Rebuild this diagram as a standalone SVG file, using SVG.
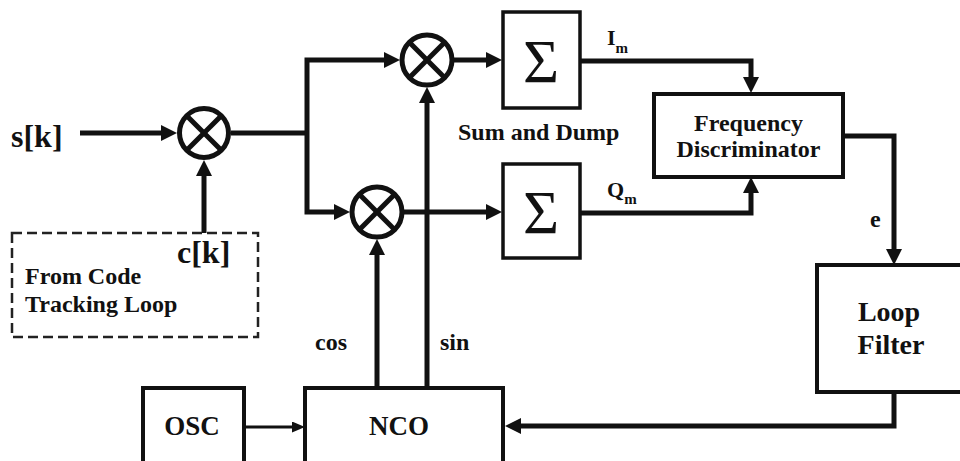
<svg xmlns="http://www.w3.org/2000/svg" width="960" height="461" viewBox="0 0 960 461">
<style>
  text { font-family: "Liberation Serif", "Times New Roman", serif; font-weight: bold; fill: #111; }
  .box { fill: #fff; stroke: #111; stroke-width: 4; }
  .dash { fill: none; stroke: #222; stroke-width: 2.5; stroke-dasharray: 10 5; }
  .mix circle { fill: #fff; stroke: #111; stroke-width: 5; }
  .mix line { stroke: #111; stroke-width: 5; }
  .w { stroke: #111; stroke-width: 5; fill: none; }
  .thin { stroke: #111; stroke-width: 3; fill: none; }
  .sig { font-weight: normal; font-size: 62px; text-anchor: middle; }
  .lbl { font-size: 24px; }
  .big { font-size: 32px; }
  .mid { text-anchor: middle; }
</style>
<defs>
  <marker id="ah" viewBox="0 0 16 16" refX="2" refY="8" markerWidth="16" markerHeight="16" markerUnits="userSpaceOnUse" orient="auto">
    <path d="M0,0 L16,8 L0,16 z" fill="#111"/>
  </marker>
  <marker id="ahs" viewBox="0 0 13 11" refX="2" refY="5.5" markerWidth="13" markerHeight="11" markerUnits="userSpaceOnUse" orient="auto">
    <path d="M0,0 L13,5.5 L0,11 z" fill="#111"/>
  </marker>
</defs>
<rect width="960" height="461" fill="#fff"/>

<g id="connectors">
  <path class="w" d="M80,133 H163" marker-end="url(#ah)"/>
  <path class="w" d="M204,233 V174" marker-end="url(#ah)"/>
  <path class="w" d="M231,133 H307"/>
  <path class="w" d="M307,133 V60 H386" marker-end="url(#ah)"/>
  <path class="w" d="M307,133 V212 H336" marker-end="url(#ah)"/>
  <path class="w" d="M454,60 H488" marker-end="url(#ah)"/>
  <path class="w" d="M404,212 H488" marker-end="url(#ah)"/>
  <path class="w" d="M377,388 V253" marker-end="url(#ah)"/>
  <path class="w" d="M427,388 V101" marker-end="url(#ah)"/>
  <path class="w" d="M580,61 H751 V79" marker-end="url(#ah)"/>
  <path class="w" d="M580,213 H751 V191" marker-end="url(#ah)"/>
  <path class="w" d="M843,136 H894 V251" marker-end="url(#ah)"/>
  <path class="w" d="M894,392 V426 H519" marker-end="url(#ah)"/>
  <path class="thin" d="M244,427 H294" marker-end="url(#ahs)"/>
</g>

<g id="input-s">
  <text class="big" x="11" y="147">s[k]</text>
</g>

<g id="mixer1" class="mix">
  <circle cx="204" cy="133" r="24.5"/>
  <line x1="186.7" y1="115.7" x2="221.3" y2="150.3"/>
  <line x1="221.3" y1="115.7" x2="186.7" y2="150.3"/>
</g>

<g id="code-loop">
  <rect class="dash" x="12" y="233" width="246" height="104"/>
  <text class="big" x="177" y="263">c[k]</text>
  <text class="lbl" x="25" y="284">From Code</text>
  <text class="lbl" x="25" y="312">Tracking Loop</text>
</g>

<g id="mixer-i" class="mix">
  <circle cx="427" cy="60" r="25"/>
  <line x1="409.3" y1="42.3" x2="444.7" y2="77.7"/>
  <line x1="444.7" y1="42.3" x2="409.3" y2="77.7"/>
</g>

<g id="mixer-q" class="mix">
  <circle cx="377" cy="212" r="25"/>
  <line x1="359.3" y1="194.3" x2="394.7" y2="229.7"/>
  <line x1="394.7" y1="194.3" x2="359.3" y2="229.7"/>
</g>

<g id="sum-i">
  <rect class="box" x="503" y="12" width="77" height="96" style="stroke-width:3.5"/>
  <text class="sig" x="541" y="82">Σ</text>
</g>

<g id="sum-q">
  <rect class="box" x="503" y="164" width="77" height="94" style="stroke-width:3.5"/>
  <text class="sig" x="541" y="233">Σ</text>
</g>

<g id="sum-label">
  <text class="lbl" x="458" y="140">Sum and Dump</text>
</g>

<g id="label-im">
  <text x="607" y="45" style="font-size:22px">I<tspan dy="8" style="font-size:15px">m</tspan></text>
</g>
<g id="label-qm">
  <text x="607" y="197" style="font-size:22px">Q<tspan dy="7" style="font-size:15px">m</tspan></text>
</g>

<g id="freq-disc">
  <rect class="box" x="654" y="94" width="189" height="83"/>
  <text class="lbl mid" x="748.5" y="131">Frequency</text>
  <text class="lbl mid" x="748.5" y="157">Discriminator</text>
</g>

<g id="label-e">
  <text class="lbl" x="870" y="227">e</text>
</g>

<g id="loop-filter">
  <rect class="box" x="817" y="265" width="150" height="127"/>
  <text class="mid" x="889" y="321" style="font-size:28px">Loop</text>
  <text class="mid" x="891" y="354" style="font-size:28px">Filter</text>
</g>

<g id="label-cos">
  <text class="lbl" x="315" y="350">cos</text>
</g>
<g id="label-sin">
  <text class="lbl" x="440" y="350">sin</text>
</g>

<g id="osc">
  <rect class="box" x="143" y="388" width="101" height="85"/>
  <text class="mid" x="192" y="435" style="font-size:27px">OSC</text>
</g>

<g id="nco">
  <rect class="box" x="305" y="388" width="198" height="85"/>
  <text class="mid" x="399" y="435" style="font-size:27px">NCO</text>
</g>
</svg>
